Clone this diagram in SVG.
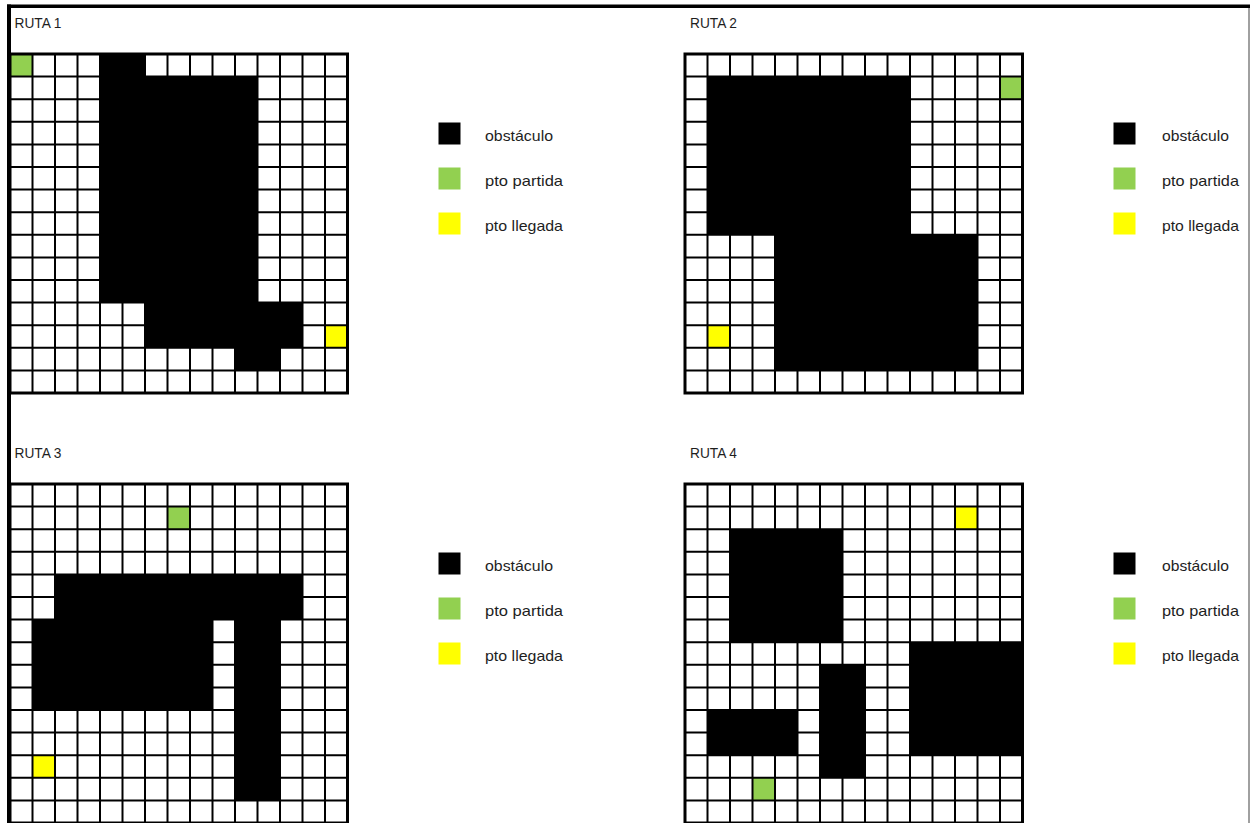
<svg xmlns="http://www.w3.org/2000/svg" xmlns:xlink="http://www.w3.org/1999/xlink" width="1250" height="823" viewBox="0 0 1250 823">
<style>
.t{font-family:"Liberation Sans",Arial,sans-serif;font-size:14px;fill:#1e1e1e}
.l{font-family:"Liberation Sans",Arial,sans-serif;font-size:15px;fill:#1e1e1e}
.ob{fill:#000}
.st{fill:#92D050}
.en{fill:#FFFF00}
.gl{fill:none;stroke:#000;stroke-width:2}
.gb{fill:none;stroke:#000;stroke-width:3}
</style>
<defs>
<path id="gridlines" class="gl" d="M22.5 0V339M45 0V339M67.5 0V339M90 0V339M112.5 0V339M135 0V339M157.5 0V339M180 0V339M202.5 0V339M225 0V339M247.5 0V339M270 0V339M292.5 0V339M315 0V339M0 22.6H337.5M0 45.2H337.5M0 67.8H337.5M0 90.4H337.5M0 113H337.5M0 135.6H337.5M0 158.2H337.5M0 180.8H337.5M0 203.4H337.5M0 226H337.5M0 248.6H337.5M0 271.2H337.5M0 293.8H337.5M0 316.4H337.5"/>
<rect id="border" class="gb" x="0" y="0" width="337.5" height="339"/>
<g id="legendbody">
<rect class="ob" x="0" y="0" width="22" height="22"/>
<rect class="st" x="0" y="45" width="22" height="22"/>
<rect class="en" x="0" y="90" width="22" height="22"/>
</g>
</defs>
<rect x="0" y="0" width="1250" height="823" fill="#fff"/>

<g id="frame">
<line x1="1249" y1="5" x2="1249" y2="823" stroke="#808080" stroke-width="1.5"/>
<line x1="7" y1="6.2" x2="1250" y2="6.2" stroke="#000" stroke-width="3.5"/>
<line x1="9" y1="4.5" x2="9" y2="823" stroke="#000" stroke-width="4"/>
</g>

<g id="ruta1">
<text class="t" x="14.5" y="27.5" textLength="47" lengthAdjust="spacingAndGlyphs">RUTA 1</text>
<g transform="translate(10,54)">
<rect x="0" y="0" width="337.5" height="339" fill="#fff"/>
<rect class="ob" x="90" y="0" width="45" height="22.6"/>
<rect class="ob" x="90" y="22.6" width="157.5" height="226"/>
<rect class="ob" x="135" y="248.6" width="157.5" height="45.2"/>
<rect class="ob" x="225" y="293.8" width="45" height="22.6"/>
<rect class="st" x="0" y="0" width="22.5" height="22.6"/>
<rect class="en" x="315" y="271.2" width="22.5" height="22.6"/>
<use xlink:href="#gridlines"/>
<use xlink:href="#border"/>
</g>
</g>

<g id="ruta2">
<text class="t" x="690" y="27.5" textLength="47" lengthAdjust="spacingAndGlyphs">RUTA 2</text>
<g transform="translate(685,54)">
<rect x="0" y="0" width="337.5" height="339" fill="#fff"/>
<rect class="ob" x="22.5" y="22.6" width="202.5" height="158.2"/>
<rect class="ob" x="90" y="180.8" width="202.5" height="135.6"/>
<rect class="st" x="315" y="22.6" width="22.5" height="22.6"/>
<rect class="en" x="22.5" y="271.2" width="22.5" height="22.6"/>
<use xlink:href="#gridlines"/>
<use xlink:href="#border"/>
</g>
</g>

<g id="ruta3">
<text class="t" x="14.5" y="457.5" textLength="47" lengthAdjust="spacingAndGlyphs">RUTA 3</text>
<g transform="translate(10,484)">
<rect x="0" y="0" width="337.5" height="339" fill="#fff"/>
<rect class="ob" x="45" y="90.4" width="247.5" height="45.2"/>
<rect class="ob" x="22.5" y="135.6" width="180" height="90.4"/>
<rect class="ob" x="225" y="135.6" width="45" height="180.8"/>
<rect class="st" x="157.5" y="22.6" width="22.5" height="22.6"/>
<rect class="en" x="22.5" y="271.2" width="22.5" height="22.6"/>
<use xlink:href="#gridlines"/>
<use xlink:href="#border"/>
</g>
</g>

<g id="ruta4">
<text class="t" x="690" y="457.5" textLength="47" lengthAdjust="spacingAndGlyphs">RUTA 4</text>
<g transform="translate(685,484)">
<rect x="0" y="0" width="337.5" height="339" fill="#fff"/>
<rect class="ob" x="45" y="45.2" width="112.5" height="113"/>
<rect class="ob" x="225" y="158.2" width="112.5" height="113"/>
<rect class="ob" x="135" y="180.8" width="45" height="113"/>
<rect class="ob" x="22.5" y="226" width="90" height="45.2"/>
<rect class="en" x="270" y="22.6" width="22.5" height="22.6"/>
<rect class="st" x="67.5" y="293.8" width="22.5" height="22.6"/>
<use xlink:href="#gridlines"/>
<use xlink:href="#border"/>
</g>
</g>

<g id="legend1">
<use xlink:href="#legendbody" x="438.5" y="122.5"/>
<text class="l" x="485" y="140.5" textLength="68" lengthAdjust="spacingAndGlyphs">obstáculo</text>
<text class="l" x="485" y="185.5" textLength="78" lengthAdjust="spacingAndGlyphs">pto partida</text>
<text class="l" x="485" y="230.5" textLength="78" lengthAdjust="spacingAndGlyphs">pto llegada</text>
</g>

<g id="legend2">
<use xlink:href="#legendbody" x="1113.5" y="122.5"/>
<text class="l" x="1162" y="140.5" textLength="67" lengthAdjust="spacingAndGlyphs">obstáculo</text>
<text class="l" x="1162" y="185.5" textLength="77" lengthAdjust="spacingAndGlyphs">pto partida</text>
<text class="l" x="1162" y="230.5" textLength="77" lengthAdjust="spacingAndGlyphs">pto llegada</text>
</g>

<g id="legend3">
<use xlink:href="#legendbody" x="438.5" y="552.5"/>
<text class="l" x="485" y="570.5" textLength="68" lengthAdjust="spacingAndGlyphs">obstáculo</text>
<text class="l" x="485" y="615.5" textLength="78" lengthAdjust="spacingAndGlyphs">pto partida</text>
<text class="l" x="485" y="660.5" textLength="78" lengthAdjust="spacingAndGlyphs">pto llegada</text>
</g>

<g id="legend4">
<use xlink:href="#legendbody" x="1113.5" y="552.5"/>
<text class="l" x="1162" y="570.5" textLength="67" lengthAdjust="spacingAndGlyphs">obstáculo</text>
<text class="l" x="1162" y="615.5" textLength="77" lengthAdjust="spacingAndGlyphs">pto partida</text>
<text class="l" x="1162" y="660.5" textLength="77" lengthAdjust="spacingAndGlyphs">pto llegada</text>
</g>
</svg>
